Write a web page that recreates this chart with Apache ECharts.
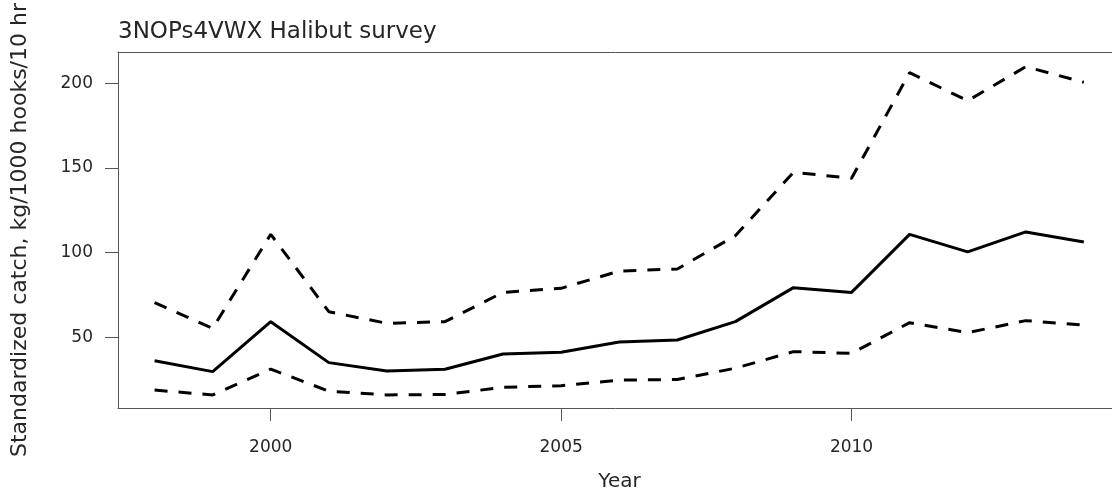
<!DOCTYPE html>
<html>
<head>
<meta charset="utf-8">
<script src="https://cdn.jsdelivr.net/npm/echarts@6/dist/echarts.min.js"></script>
<style>html,body{margin:0;padding:0;background:#fff}#c{width:1112px;height:495px}</style>
</head>
<body>
<div id="c"></div>
<script>
const years = [1998,1999,2000,2001,2002,2003,2004,2005,2006,2007,2008,2009,2010,2011,2012,2013,2014];
const estimate = [36.1,29.7,59.2,35.0,30.1,31.1,40.1,41.1,47.2,48.4,59.2,79.3,76.5,110.8,100.4,112.2,106.3];
const upper = [70.4,55.3,110.8,65.1,58.2,59.2,76.5,78.9,89.1,90.3,110,147.4,143.9,206.3,189.7,209.8,200.6];
const lower = [18.8,15.9,31.2,18.1,15.9,16.2,20.4,21.4,24.7,25.0,31.7,41.5,40.5,58.6,52.7,59.8,57.2];
const xTicks = [2000, 2005, 2010];
const yTicks = [50, 100, 150, 200];
const titleText = '3NOPs4VWX Halibut survey';
const xName = 'Year';
const yName = 'Standardized catch, kg/1000 hooks/10 hr';

const pair = a => years.map((y, i) => [y, a[i]]);
const font = 'DejaVu Sans';
const txt = '#262626';
const axisGrey = '#555';
const plain = v => String(v);

const chart = echarts.init(document.getElementById('c'), null, {renderer: 'canvas'});
chart.setOption({
  animation: false,
  backgroundColor: '#fff',
  title: {
    text: titleText, left: 113, top: 16,
    textStyle: {fontFamily: font, fontSize: 23, fontWeight: 'normal', color: txt}
  },
  grid: {
    left: 118, right: -9, top: 52, bottom: 87,
    show: false, containLabel: false, outerBoundsMode: 'none'
  },
  xAxis: [{
    type: 'value', min: 1997.37, max: 2014.64, position: 'bottom',
    name: xName, nameLocation: 'middle', nameGap: 64,
    nameTextStyle: {fontFamily: font, fontSize: 20, color: txt},
    axisLine: {show: true, onZero: false, lineStyle: {color: axisGrey, width: 1}},
    axisTick: {show: true, length: 13, lineStyle: {color: axisGrey, width: 1}, customValues: xTicks},
    axisLabel: {customValues: xTicks, formatter: plain, margin: 31, fontFamily: font, fontSize: 17, color: txt},
    splitLine: {show: false}
  }, {
    type: 'value', min: 1997.37, max: 2014.64, position: 'top',
    axisLine: {show: true, onZero: false, lineStyle: {color: axisGrey, width: 1}},
    axisTick: {show: false}, axisLabel: {show: false}, splitLine: {show: false}
  }],
  yAxis: {
    type: 'value', min: 8.2, max: 218.5,
    name: yName, nameLocation: 'middle', nameGap: 87, nameRotate: 90,
    nameTextStyle: {fontFamily: font, fontSize: 22, color: txt},
    axisLine: {show: true, onZero: false, lineStyle: {color: axisGrey, width: 1}},
    axisTick: {show: true, length: 13, lineStyle: {color: axisGrey, width: 1}, customValues: yTicks},
    axisLabel: {customValues: yTicks, formatter: plain, margin: 25, fontFamily: font, fontSize: 17, color: txt},
    splitLine: {show: false}
  },
  series: [
    {type: 'line', xAxisIndex: 0, data: pair(upper), symbol: 'none', lineStyle: {color: '#000', width: 3, type: [13, 11], cap: 'butt'}},
    {type: 'line', xAxisIndex: 0, data: pair(estimate), symbol: 'none', lineStyle: {color: '#000', width: 3, type: 'solid'}},
    {type: 'line', xAxisIndex: 0, data: pair(lower), symbol: 'none', lineStyle: {color: '#000', width: 3, type: [13, 11], cap: 'butt'}}
  ]
});
</script>
</body>
</html>
